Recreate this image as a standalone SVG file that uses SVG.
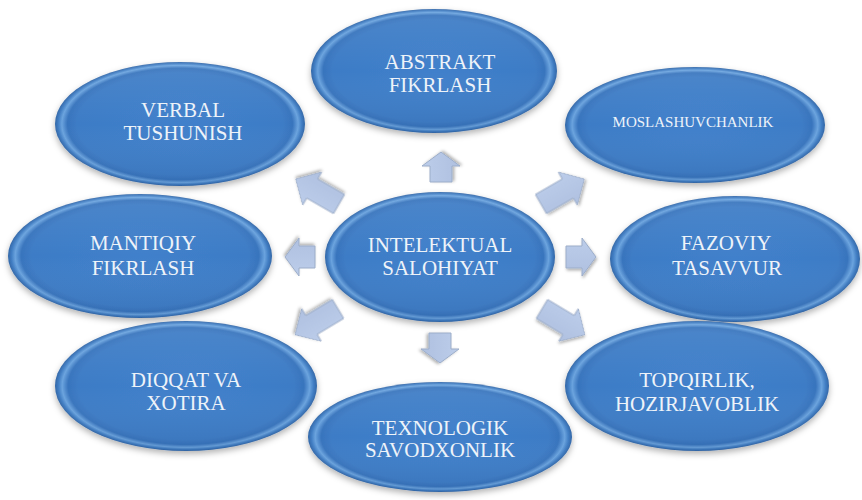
<svg xmlns="http://www.w3.org/2000/svg" width="862" height="500" viewBox="0 0 862 500">
<defs>
<radialGradient id="eg" cx="50%" cy="50%" r="50%">
<stop offset="0%" stop-color="#4080cb"/>
<stop offset="82%" stop-color="#3d7cc6"/>
<stop offset="90%" stop-color="#3874bd"/>
<stop offset="94.5%" stop-color="#6aa3de"/>
<stop offset="97.5%" stop-color="#407dc3"/>
<stop offset="100%" stop-color="#3266a6"/>
</radialGradient>
<linearGradient id="gl" x1="0" y1="0" x2="0" y2="1">
<stop offset="0%" stop-color="#ffffff" stop-opacity="0.08"/>
<stop offset="50%" stop-color="#ffffff" stop-opacity="0"/>
<stop offset="100%" stop-color="#0a2a5a" stop-opacity="0.10"/>
</linearGradient>
<linearGradient id="ag" x1="0" y1="0" x2="0" y2="1">
<stop offset="0%" stop-color="#bccdea"/>
<stop offset="100%" stop-color="#afc0e0"/>
</linearGradient>
<filter id="sh" x="-10%" y="-10%" width="120%" height="130%">
<feDropShadow dx="0" dy="3" stdDeviation="3" flood-color="#000" flood-opacity="0.3"/>
</filter>
<filter id="ash" x="-30%" y="-30%" width="160%" height="160%">
<feDropShadow dx="1" dy="2" stdDeviation="1.5" flood-color="#000" flood-opacity="0.3"/>
</filter>
<polygon id="sa" points="0,-11 16,-11 16,-19 30,0 16,19 16,11 0,11"/>
<polygon id="la" points="0,-11 31,-11 31,-19 50,0 31,19 31,11 0,11"/>
</defs>
<style>
.el{fill:url(#eg);filter:url(#sh)}
.gl{fill:url(#gl)}
.t{font-family:'Liberation Serif','DejaVu Serif',serif;font-size:21px;fill:#eef3f9;text-anchor:middle}
.ts{font-size:15px}
.ar{fill:url(#ag);stroke:#9cadc9;stroke-width:1;filter:url(#ash)}
</style>
<rect width="862" height="500" fill="#ffffff"/>
<g id="connectors">
<use href="#sa" class="ar" transform="translate(441,182) rotate(-90)"/>
<use href="#sa" class="ar" transform="translate(440,333) rotate(90)"/>
<use href="#sa" class="ar" transform="translate(566,257)"/>
<use href="#sa" class="ar" transform="translate(315,257) rotate(180)"/>
<use href="#la" class="ar" transform="translate(541,204) rotate(-30)"/>
<use href="#la" class="ar" transform="translate(542,309) rotate(31)"/>
<use href="#la" class="ar" transform="translate(339,204) rotate(-150)"/>
<use href="#la" class="ar" transform="translate(338,309) rotate(149)"/>
</g>
<g id="abstrakt">
<ellipse class="el" cx="434" cy="71" rx="123" ry="62"/>
<ellipse class="gl" cx="434" cy="71" rx="123" ry="62"/>
<text class="t" x="440" y="69">ABSTRAKT</text>
<text class="t" x="440" y="92">FIKRLASH</text>
</g>
<g id="verbal">
<ellipse class="el" cx="180" cy="124" rx="125" ry="62"/>
<ellipse class="gl" cx="180" cy="124" rx="125" ry="62"/>
<text class="t" x="183" y="117">VERBAL</text>
<text class="t" x="183" y="140">TUSHUNISH</text>
</g>
<g id="moslashuvchanlik">
<ellipse class="el" cx="695" cy="125" rx="130" ry="58"/>
<ellipse class="gl" cx="695" cy="125" rx="130" ry="58"/>
<text class="t ts" x="693" y="127">MOSLASHUVCHANLIK</text>
</g>
<g id="mantiqiy">
<ellipse class="el" cx="140" cy="256" rx="132" ry="62"/>
<ellipse class="gl" cx="140" cy="256" rx="132" ry="62"/>
<text class="t" x="143" y="250">MANTIQIY</text>
<text class="t" x="143" y="275">FIKRLASH</text>
</g>
<g id="fazoviy">
<ellipse class="el" cx="735" cy="259" rx="125" ry="63"/>
<ellipse class="gl" cx="735" cy="259" rx="125" ry="63"/>
<text class="t" x="726" y="250">FAZOVIY</text>
<text class="t" x="727" y="275">TASAVVUR</text>
</g>
<g id="diqqat">
<ellipse class="el" cx="186" cy="386" rx="131" ry="65"/>
<ellipse class="gl" cx="186" cy="386" rx="131" ry="65"/>
<text class="t" x="186" y="387">DIQQAT VA</text>
<text class="t" x="186" y="410">XOTIRA</text>
</g>
<g id="topqirlik">
<ellipse class="el" cx="697" cy="386" rx="132" ry="65"/>
<ellipse class="gl" cx="697" cy="386" rx="132" ry="65"/>
<text class="t" x="697" y="387">TOPQIRLIK,</text>
<text class="t" x="697" y="411">HOZIRJAVOBLIK</text>
</g>
<g id="texnologik">
<ellipse class="el" cx="440" cy="437" rx="132" ry="55"/>
<ellipse class="gl" cx="440" cy="437" rx="132" ry="55"/>
<text class="t" x="440" y="435">TEXNOLOGIK</text>
<text class="t" x="440" y="457">SAVODXONLIK</text>
</g>
<g id="intelektual">
<ellipse class="el" cx="440" cy="257" rx="115" ry="65"/>
<ellipse class="gl" cx="440" cy="257" rx="115" ry="65"/>
<text class="t" x="440" y="252">INTELEKTUAL</text>
<text class="t" x="440" y="275">SALOHIYAT</text>
</g>
</svg>
